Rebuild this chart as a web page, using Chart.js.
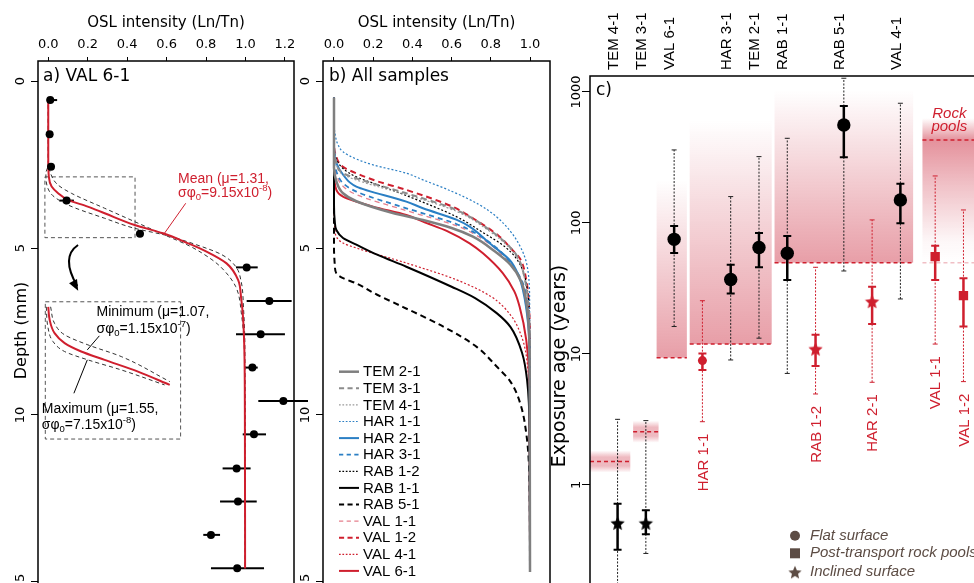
<!DOCTYPE html>
<html><head><meta charset="utf-8">
<script src="https://cdn.jsdelivr.net/npm/chart.js@4.4.1/dist/chart.umd.min.js"></script>
<style>
html,body{margin:0;padding:0;background:#fff;overflow:hidden;}
#wrap{position:relative;width:974px;height:583px;overflow:hidden;background:#fff;}
canvas{position:absolute;top:0;}
#ca{left:0;} #cb{left:290px;} #cc{left:540px;}
</style></head><body>
<div id="wrap">
<canvas id="ca" width="320" height="640"></canvas>
<canvas id="cb" width="265" height="640"></canvas>
<canvas id="cc" width="460" height="640"></canvas>
</div>
<script>
// ---------------- DATA ----------------
const depthTicks = [0, 5, 10, 15];
const oslTicksA = [0, 0.2, 0.4, 0.6, 0.8, 1.0, 1.2];
const oslTicksB = [0, 0.2, 0.4, 0.6, 0.8, 1.0];
const ageTicks = [1, 10, 100, 1000];

// Panel a: VAL 6-1 measured points
const val61Depth = [0.57,1.59,2.57,3.58,4.57,5.58,6.59,7.58,8.58,9.58,10.58,11.6,12.59,13.59,14.59];
const val61Osl   = [0.01,0.007,0.014,0.093,0.465,1.006,1.121,1.077,1.035,1.192,1.043,0.955,0.962,0.825,0.958];
const val61OslLo = [-0.008,0.0,0.006,0.056,0.448,0.952,1.006,0.952,0.994,1.065,0.986,0.884,0.871,0.786,0.825];
const val61OslHi = [0.045,0.014,0.022,0.13,0.482,1.062,1.234,1.2,1.062,1.317,1.104,1.026,1.057,0.871,1.094];
// Panel a fitted curves [depth, osl]
const meanCurveA = [[0.5,0],[2.3,0],[2.87,0.003],[3.16,0.017],[3.36,0.05],[3.56,0.1],[3.76,0.2],[3.96,0.286],[4.31,0.438],[4.56,0.582],[4.86,0.709],[5.1,0.8],[5.46,0.904],[5.96,0.963],[6.5,0.978],[6.95,0.986],[7.96,0.994],[10,0.997],[14.6,0.998]];
const minCurveA  = [[0.5,0],[2.2,0],[2.77,0.012],[3.11,0.049],[3.36,0.117],[3.81,0.286],[4.21,0.438],[4.61,0.59],[4.95,0.72],[5.35,0.83],[5.6,0.88],[6.15,0.95],[7.0,0.98],[8.3,0.995],[14.6,0.998]];
const maxCurveA  = [[0.5,0],[2.5,0],[2.77,-0.012],[3.36,0.012],[3.71,0.1],[4.11,0.286],[4.41,0.438],[4.61,0.59],[4.9,0.75],[5.2,0.88],[5.55,0.95],[6.0,0.978],[6.8,0.99],[8.0,0.997],[14.6,0.999]];
const insetMean  = [[6.76,0],[7.15,0.007],[7.55,0.032],[7.85,0.083],[8.1,0.167],[8.35,0.286],[8.7,0.455],[9.1,0.616]];
const insetUpper = [[6.76,0.012],[7.26,0.032],[7.6,0.083],[7.9,0.201],[8.25,0.37],[9.0,0.616]];
const insetLower = [[6.76,-0.01],[7.36,-0.002],[7.8,0.024],[8.1,0.083],[8.35,0.201],[8.65,0.37],[9.1,0.59]];

// Panel b: all samples [depth, osl]
const namesB = ['TEM 2-1','TEM 3-1','TEM 4-1','HAR 1-1','HAR 2-1','HAR 3-1','RAB 1-2','RAB 1-1','RAB 5-1','VAL 1-1','VAL 1-2','VAL 4-1','VAL 6-1'];
const curveTEM21 = [[0.5,0],[2.6,0],[3.0,0.012],[3.36,0.046],[3.6,0.114],[3.95,0.3],[4.16,0.454],[4.4,0.6],[4.66,0.709],[5.1,0.82],[5.5,0.9],[6.0,0.955],[6.8,0.985],[8.5,0.998],[14.7,1.0]];
const curveTEM31 = [[0.5,0],[2.0,0],[2.4,0.01],[2.76,0.046],[3.0,0.16],[3.36,0.369],[3.86,0.624],[4.46,0.794],[4.96,0.896],[5.3,0.94],[5.96,0.975],[6.8,0.993],[8,1.0],[14.7,1.0]];
const curveTEM41 = [[0.5,0],[2.05,0],[2.45,0.01],[2.8,0.046],[3.05,0.16],[3.4,0.369],[3.9,0.624],[4.5,0.794],[5.0,0.896],[5.35,0.94],[6.0,0.975],[6.85,0.993],[8,1.0],[14.7,1.0]];
const curveHAR11 = [[0.5,0],[1.2,0],[1.6,0.006],[1.9,0.02],[2.12,0.046],[2.35,0.12],[2.51,0.199],[2.76,0.369],[2.96,0.454],[3.3,0.6],[3.7,0.74],[4.06,0.828],[4.5,0.9],[4.9,0.945],[5.3,0.975],[5.7,0.99],[6.5,0.998],[14.7,1.0]];
const curveHAR21 = [[0.5,0],[2.0,0],[2.45,0.012],[2.8,0.046],[3.16,0.114],[3.61,0.369],[3.81,0.454],[4.15,0.624],[4.36,0.692],[4.86,0.794],[5.36,0.896],[5.8,0.94],[6.26,0.964],[7.26,0.99],[8.5,0.999],[14.7,1.0]];
const curveHAR31 = [[0.5,0],[2.3,0],[2.7,0.012],[3.06,0.046],[3.31,0.114],[3.81,0.369],[3.96,0.454],[4.28,0.624],[4.55,0.72],[5.0,0.83],[5.45,0.9],[6.0,0.96],[6.8,0.988],[8.5,0.999],[14.7,1.0]];
const curveRAB12 = [[0.5,0],[1.9,0],[2.3,0.01],[2.62,0.046],[2.87,0.114],[3.1,0.22],[3.43,0.369],[4.06,0.624],[4.5,0.75],[5.0,0.88],[5.5,0.95],[6.2,0.985],[7.2,0.997],[14.7,1.0]];
const curveRAB11 = [[0.5,0],[3.7,0],[4.2,0.004],[4.46,0.012],[4.7,0.046],[4.9,0.114],[5.2,0.22],[5.56,0.369],[6.16,0.6],[6.5,0.72],[6.95,0.83],[7.36,0.9],[8.15,0.96],[8.95,0.985],[10.5,0.998],[14.7,1.0]];
const curveRAB51 = [[0.5,0],[5.0,0],[5.5,0.004],[5.76,0.012],[5.9,0.046],[6.06,0.114],[6.4,0.22],[6.76,0.35],[7.36,0.56],[7.96,0.728],[8.55,0.83],[9.0,0.9],[9.65,0.95],[10.65,0.983],[12,0.997],[14.7,1.0]];
const curveVAL11 = [[0.5,0],[2.4,0],[2.8,0.012],[3.15,0.046],[3.4,0.114],[3.88,0.369],[4.33,0.624],[4.6,0.72],[5.05,0.83],[5.5,0.9],[6.05,0.96],[6.9,0.988],[8.6,0.999],[14.7,1.0]];
const curveVAL12 = [[0.5,0],[1.8,0],[2.2,0.008],[2.57,0.046],[2.8,0.13],[3.0,0.22],[3.26,0.369],[3.75,0.6],[4.11,0.709],[4.66,0.845],[5.0,0.9],[5.3,0.947],[5.96,0.981],[6.76,0.995],[8,1.0],[14.7,1.0]];
const curveVAL41 = [[0.5,0],[4.0,0],[4.4,0.004],[4.66,0.012],[4.85,0.046],[5.0,0.114],[5.45,0.369],[5.95,0.624],[6.45,0.8],[7.0,0.9],[7.7,0.96],[8.4,0.985],[10,0.998],[14.7,1.0]];
const curveVAL61 = [[0.5,0],[2.7,0],[3.26,0.012],[3.46,0.046],[3.76,0.199],[4.01,0.369],[4.21,0.454],[4.5,0.58],[4.86,0.692],[5.16,0.76],[5.76,0.862],[6.3,0.92],[6.76,0.947],[7.76,0.981],[9,0.996],[14.7,1.0]];
const curvesB = [curveTEM21,curveTEM31,curveTEM41,curveHAR11,curveHAR21,curveHAR31,curveRAB12,curveRAB11,curveRAB51,curveVAL11,curveVAL12,curveVAL41,curveVAL61];

// Panel c: exposure ages (years)
const samplesC = ['TEM 4-1','TEM 3-1','VAL 6-1','HAR 1-1','HAR 3-1','TEM 2-1','RAB 1-1','RAB 1-2','RAB 5-1','HAR 2-1','VAL 4-1','VAL 1-1','VAL 1-2'];
const surfaceC = ['inclined','inclined','flat','flat','flat','flat','flat','inclined','flat','inclined','flat','pool','pool'];
const redC     = [false,false,false,true,false,false,false,true,false,true,false,true,true];
const ageC   = [0.51,0.51,75,8.9,37,65,58.7,10.9,560,25.1,150,55.3,27.9];
const age1Lo = [0.32,0.42,59,7.55,29,46,36.7,8.1,318,16.9,99.5,36.7,16.2];
const age1Hi = [0.72,0.64,95,10.1,48,84,79.6,14.0,782,32.6,199,67.1,37.8];
const age2Lo = [0.1,0.30,16.2,3.04,9.0,13.2,7.1,4.95,43,6.08,26.3,11.9,6.15];
const age2Hi = [3.17,3.10,361,25.5,159,321,443,45.9,1273,105.5,820,228.5,125.7];
// Group (band) ages
const bandFirst = [0,1,2,3,6,11];
const bandLast  = [0,1,2,5,10,12];
const bandAge   = [1.51,2.55,9.37,11.9,49.8,430];
const bandUpper = [null,null,213,611,1035,631];
const bandLower = [null,null,null,null,null,49.8];

// ---------------- STYLE / HELPERS ----------------
const RED = '#cf1f2e';
const FONT = "'DejaVu Sans'";
const ARIAL = "'Liberation Sans', Arial";
Chart.defaults.font.family = FONT;
Chart.defaults.color = '#000';
const toXY = arr => arr.map(p => ({x: p[1], y: p[0]}));
const posC = samplesC.map((s,i) => i + 1 + (surfaceC[i] === 'pool' ? 0.23 : 0));

function vText(ctx, text, x, y, font, color, align) {
  ctx.save(); ctx.translate(x, y); ctx.rotate(-Math.PI/2);
  ctx.font = font; ctx.fillStyle = color; ctx.textAlign = align || 'center'; ctx.textBaseline = 'middle';
  ctx.fillText(text, 0, 0); ctx.restore();
}
function richText(ctx, parts, x, y, size, color) {
  let cx = x;
  ctx.fillStyle = color; ctx.textBaseline = 'middle'; ctx.textAlign = 'left';
  for (const p of parts) {
    const s = (p.sub || p.sup) ? size * 0.68 : size;
    ctx.font = s + 'px ' + ARIAL;
    const dy = p.sub ? size * 0.32 : (p.sup ? -size * 0.33 : 0);
    ctx.fillText(p.t, cx, y + dy);
    cx += ctx.measureText(p.t).width;
  }
}
function makeStar(r, color) {
  const c = document.createElement('canvas');
  const s = Math.ceil(r * 2 + 2); c.width = s; c.height = s;
  const g = c.getContext('2d');
  g.fillStyle = color; g.beginPath();
  for (let k = 0; k < 10; k++) {
    const ang = -Math.PI/2 + k * Math.PI / 5;
    const rr = k % 2 === 0 ? r : r * 0.46;
    const X = s/2 + rr * Math.cos(ang), Y = s/2 + 0.6 + rr * Math.sin(ang);
    k ? g.lineTo(X, Y) : g.moveTo(X, Y);
  }
  g.closePath(); g.fill();
  return c;
}
const starBlack = makeStar(7.5, '#000');
const starRed = makeStar(7.5, RED);
const starLegend = makeStar(7, '#5c4c44');

function depthAxis(width) {
  return {type:'linear', position:'left', reverse:true, min:-0.6, max:15.54,
    afterBuildTicks: s => { s.ticks = depthTicks.map(v => ({value: v})); },
    afterFit: s => { s.width = width; },
    ticks:{display:false},
    grid:{drawOnChartArea:false, tickLength:7, color:'#000', tickColor:'#000', lineWidth:1},
    border:{display:false}};
}
function oslAxis(min, max, ticks) {
  return {type:'linear', position:'top', min:min, max:max,
    afterBuildTicks: s => { s.ticks = ticks.map(v => ({value: v})); },
    afterFit: s => { s.height = 61; },
    ticks:{font:{size:13, family:FONT}, padding:5, color:'#000', autoSkip:false, maxRotation:0, callback: v => Number(v).toFixed(1)},
    grid:{drawOnChartArea:false, tickLength:4, color:'#000', tickColor:'#000', lineWidth:1},
    border:{display:false},
    title:{display:true, text:'OSL intensity (Ln/Tn)', font:{size:15, family:FONT}, padding:{top:14, bottom:0}, color:'#000'}};
}
function curveDs(arr, color, width, dash) {
  return {data: toXY(arr), showLine:true, borderColor:color, borderWidth:width, borderDash:dash,
    pointRadius:0, cubicInterpolationMode:'monotone', fill:false};
}

// ---------------- PANEL A ----------------
const plugA = {
  id:'plugA',
  beforeDatasetsDraw(chart) {
    const {ctx, scales:{x, y}} = chart;
    ctx.save();
    ctx.strokeStyle = '#000'; ctx.lineWidth = 2;
    val61Depth.forEach((d, i) => {
      const py = y.getPixelForValue(d);
      ctx.beginPath();
      ctx.moveTo(x.getPixelForValue(val61OslLo[i]), py);
      ctx.lineTo(x.getPixelForValue(val61OslHi[i]), py);
      ctx.stroke();
    });
    ctx.setLineDash([4,3]); ctx.lineWidth = 1; ctx.strokeStyle = '#555';
    const box = (x0, x1, d0, d1) => {
      const a = x.getPixelForValue(x0), b = x.getPixelForValue(x1);
      const c = y.getPixelForValue(d0), e = y.getPixelForValue(d1);
      ctx.strokeRect(a, c, b - a, e - c);
    };
    box(-0.017, 0.44, 2.87, 4.69);
    box(-0.015, 0.671, 6.61, 10.72);
    ctx.restore();
  },
  afterDraw(chart) {
    const {ctx, chartArea:ca, scales:{x, y}} = chart;
    ctx.save();
    ctx.strokeStyle = '#000'; ctx.lineWidth = 1.5;
    ctx.strokeRect(ca.left, ca.top, ca.right - ca.left, ca.bottom - ca.top);
    depthTicks.forEach(v => vText(ctx, String(v), ca.left - 17, y.getPixelForValue(v), '13px ' + FONT, '#000'));
    ctx.font = '17px ' + FONT; ctx.fillStyle = '#000'; ctx.textAlign = 'left'; ctx.textBaseline = 'middle';
    ctx.fillText('a) VAL 6-1', ca.left + 5, ca.top + 16);
    const P = (vx, vd) => [x.getPixelForValue(vx), y.getPixelForValue(vd)];
    const line = (p, q, col) => { ctx.strokeStyle = col; ctx.lineWidth = 1; ctx.beginPath(); ctx.moveTo(p[0], p[1]); ctx.lineTo(q[0], q[1]); ctx.stroke(); };
    let p = P(0.658, 2.93);
    ctx.font = '14px ' + ARIAL; ctx.fillStyle = RED; ctx.fillText('Mean (\u03bc=1.31,', p[0], p[1]);
    p = P(0.658, 3.35);
    richText(ctx, [{t:'\u03c3\u03c6'},{t:'0',sub:true},{t:'=9.15x10'},{t:'-8',sup:true},{t:')'}], p[0], p[1], 14, RED);
    line(P(0.697, 3.66), P(0.583, 4.61), RED);
    p = P(0.245, 6.93);
    ctx.font = '14px ' + ARIAL; ctx.fillStyle = '#000'; ctx.textAlign = 'left'; ctx.fillText('Minimum (\u03bc=1.07,', p[0], p[1]);
    p = P(0.245, 7.43);
    richText(ctx, [{t:'\u03c3\u03c6'},{t:'0',sub:true},{t:'=1.15x10'},{t:'-7',sup:true},{t:')'}], p[0], p[1], 14, '#000');
    line(P(0.259, 7.63), P(0.198, 8.05), '#000');
    p = P(-0.033, 9.82);
    ctx.font = '14px ' + ARIAL; ctx.fillStyle = '#000'; ctx.fillText('Maximum (\u03bc=1.55,', p[0], p[1]);
    p = P(-0.033, 10.3);
    richText(ctx, [{t:'\u03c3\u03c6'},{t:'0',sub:true},{t:'=7.15x10'},{t:'-8',sup:true},{t:')'}], p[0], p[1], 14, '#000');
    line(P(0.198, 8.35), P(0.13, 9.35), '#000');
    const a0 = P(0.151, 4.91), c0 = P(0.061, 5.27), a1 = P(0.147, 6.23);
    ctx.strokeStyle = '#000'; ctx.lineWidth = 2;
    ctx.beginPath(); ctx.moveTo(a0[0], a0[1]); ctx.quadraticCurveTo(c0[0], c0[1], a1[0], a1[1] - 3); ctx.stroke();
    const ang = Math.atan2(a1[1] - c0[1], a1[0] - c0[0]);
    ctx.fillStyle = '#000'; ctx.beginPath();
    ctx.moveTo(a1[0] + 2*Math.cos(ang), a1[1] + 2*Math.sin(ang));
    ctx.lineTo(a1[0] - 9*Math.cos(ang) + 4.5*Math.sin(ang), a1[1] - 9*Math.sin(ang) - 4.5*Math.cos(ang));
    ctx.lineTo(a1[0] - 9*Math.cos(ang) - 4.5*Math.sin(ang), a1[1] - 9*Math.sin(ang) + 4.5*Math.cos(ang));
    ctx.closePath(); ctx.fill();
    ctx.restore();
  }
};

new Chart(document.getElementById('ca'), {
  type:'scatter',
  data:{datasets:[
    {data: val61Depth.map((d, i) => ({x: val61Osl[i], y: d})), showLine:false, pointRadius:4, pointBackgroundColor:'#000', pointBorderColor:'#000', pointBorderWidth:0},
    curveDs(meanCurveA, RED, 2, []),
    curveDs(minCurveA, '#333', 1, [4,3]),
    curveDs(maxCurveA, '#333', 1, [4,3]),
    curveDs(insetMean, RED, 2, []),
    curveDs(insetUpper, '#333', 1, [4,3]),
    curveDs(insetLower, '#333', 1, [4,3])
  ]},
  options:{
    responsive:false, animation:false, events:[], indexAxis:'y',
    layout:{padding:{left:0, top:0, right:26, bottom:40}},
    plugins:{legend:{display:false}, tooltip:{enabled:false}},
    scales:{
      x: oslAxis(-0.052, 1.246, oslTicksA),
      y: Object.assign(depthAxis(38), {title:{display:true, text:'Depth (mm)', font:{size:16, family:FONT}, padding:{top:12.4, bottom:0}, color:'#000'}})
    }
  },
  plugins:[plugA]
});

// ---------------- PANEL B ----------------
const GRAY = '#7f7f7f', BLUE = '#2b7fc4', PINK = '#e57f8c';
const lineStyleB = [
  {c:GRAY, w:2.5, d:[]}, {c:'#8c8c8c', w:2, d:[6,4]}, {c:'#9a9a9a', w:1.2, d:[2,2]},
  {c:BLUE, w:1.2, d:[2,2]}, {c:BLUE, w:2, d:[]}, {c:BLUE, w:1.8, d:[5,4]},
  {c:'#000', w:1.2, d:[2,2]}, {c:'#000', w:2, d:[]}, {c:'#000', w:2, d:[6,4]},
  {c:PINK, w:1.3, d:[5,4]}, {c:RED, w:2, d:[6,4]}, {c:RED, w:1.2, d:[2,2]}, {c:RED, w:2, d:[]}
];
const plugB = {
  id:'plugB',
  afterDraw(chart) {
    const {ctx, chartArea:ca, scales:{y}} = chart;
    ctx.save();
    ctx.strokeStyle = '#000'; ctx.lineWidth = 1.5;
    ctx.strokeRect(ca.left, ca.top, ca.right - ca.left, ca.bottom - ca.top);
    depthTicks.forEach(v => vText(ctx, String(v), ca.left - 17, y.getPixelForValue(v), '13px ' + FONT, '#000'));
    ctx.font = '17px ' + FONT; ctx.fillStyle = '#000'; ctx.textAlign = 'left'; ctx.textBaseline = 'middle';
    ctx.fillText('b) All samples', ca.left + 6, ca.top + 16);
    namesB.forEach((n, i) => {
      const st = lineStyleB[i];
      const yy = ca.top + 310.7 + i * 16.6;
      ctx.strokeStyle = st.c; ctx.lineWidth = st.w; ctx.setLineDash(st.d.map(v => Math.max(1.5, v * 0.85)));
      ctx.beginPath(); ctx.moveTo(ca.left + 16, yy); ctx.lineTo(ca.left + 36, yy); ctx.stroke();
      ctx.setLineDash([]);
      ctx.font = '15px ' + ARIAL; ctx.fillStyle = '#000';
      ctx.fillText(n, ca.left + 40, yy + 0.5);
    });
    ctx.restore();
  }
};
new Chart(document.getElementById('cb'), {
  type:'scatter',
  data:{datasets: curvesB.map((c, i) => Object.assign(curveDs(c, lineStyleB[i].c, lineStyleB[i].w, lineStyleB[i].d), {label: namesB[i]}))},
  options:{
    responsive:false, animation:false, events:[], indexAxis:'y',
    layout:{padding:{left:0, top:0, right:5, bottom:40}},
    plugins:{legend:{display:false}, tooltip:{enabled:false}},
    scales:{ x: oslAxis(-0.0561, 1.102, oslTicksB), y: depthAxis(33) }
  },
  plugins:[plugB]
});

// ---------------- PANEL C ----------------
const plugC = {
  id:'plugC',
  beforeDatasetsDraw(chart) {
    const {ctx, chartArea:ca, scales:{x, y}} = chart;
    ctx.save();
    ctx.beginPath(); ctx.rect(ca.left, ca.top, ca.right - ca.left, ca.bottom - ca.top); ctx.clip();
    const col = a => 'rgba(204,44,64,' + a + ')';
    bandFirst.forEach((f, k) => {
      const l = bandLast[k];
      const xL = f === 0 ? ca.left : x.getPixelForValue(posC[f] - (k === 2 ? 0.62 : 0.45));
      const xR = l === samplesC.length - 1 ? ca.right : x.getPixelForValue(posC[l] + 0.45);
      const yL = y.getPixelForValue(bandAge[k]);
      if (bandUpper[k] === null) {
        const g = ctx.createLinearGradient(0, yL - 11, 0, yL + 11);
        g.addColorStop(0, col(0)); g.addColorStop(0.3, col(0.33)); g.addColorStop(0.7, col(0.33)); g.addColorStop(1, col(0));
        ctx.fillStyle = g; ctx.fillRect(xL, yL - 11, xR - xL, 22);
      } else if (bandLower[k] === null) {
        const yT = y.getPixelForValue(bandUpper[k]);
        const g = ctx.createLinearGradient(0, yT, 0, yL);
        g.addColorStop(0, col(0)); g.addColorStop(1, col(0.46));
        ctx.fillStyle = g; ctx.fillRect(xL, yT, xR - xL, yL - yT);
      } else {
        const yT = y.getPixelForValue(bandUpper[k]);
        const yB = y.getPixelForValue(bandLower[k]);
        const g = ctx.createLinearGradient(0, yT, 0, yB);
        const f0 = (yL - yT) / (yB - yT);
        g.addColorStop(0, col(0)); g.addColorStop(f0, col(0.52)); g.addColorStop(Math.min(0.55, f0 + 0.3), col(0.3));
        g.addColorStop(0.85, col(0.04)); g.addColorStop(1, col(0));
        ctx.fillStyle = g; ctx.fillRect(xL, yT, xR - xL, yB - yT);
        ctx.strokeStyle = col(0.3); ctx.lineWidth = 1.5; ctx.setLineDash([4,3]);
        ctx.beginPath(); ctx.moveTo(xL, yB); ctx.lineTo(xR, yB); ctx.stroke();
      }
      ctx.strokeStyle = RED; ctx.lineWidth = 1.5; ctx.setLineDash([4,3]);
      ctx.beginPath(); ctx.moveTo(xL, yL); ctx.lineTo(xR, yL); ctx.stroke();
      ctx.setLineDash([]);
    });
    samplesC.forEach((s, i) => {
      const px = x.getPixelForValue(posC[i]);
      const c = redC[i] ? RED : '#222';
      const y2a = y.getPixelForValue(age2Lo[i]), y2b = y.getPixelForValue(age2Hi[i]);
      ctx.strokeStyle = c; ctx.lineWidth = 1; ctx.setLineDash([2,1.5]);
      ctx.beginPath(); ctx.moveTo(px, y2a); ctx.lineTo(px, y2b); ctx.stroke();
      ctx.setLineDash([]);
      ctx.beginPath(); ctx.moveTo(px - 2.5, y2a); ctx.lineTo(px + 2.5, y2a); ctx.moveTo(px - 2.5, y2b); ctx.lineTo(px + 2.5, y2b); ctx.stroke();
      const y1a = y.getPixelForValue(age1Lo[i]), y1b = y.getPixelForValue(age1Hi[i]);
      ctx.strokeStyle = redC[i] ? RED : '#000'; ctx.lineWidth = 2.5;
      ctx.beginPath(); ctx.moveTo(px, y1a); ctx.lineTo(px, y1b); ctx.stroke();
      ctx.lineWidth = 2;
      ctx.beginPath(); ctx.moveTo(px - 4, y1a); ctx.lineTo(px + 4, y1a); ctx.moveTo(px - 4, y1b); ctx.lineTo(px + 4, y1b); ctx.stroke();
    });
    ctx.restore();
  },
  afterDraw(chart) {
    const {ctx, chartArea:ca, scales:{x, y}} = chart;
    ctx.save();
    ctx.strokeStyle = '#000'; ctx.lineWidth = 1.5;
    ctx.beginPath(); ctx.moveTo(ca.right, ca.top); ctx.lineTo(ca.left, ca.top); ctx.lineTo(ca.left, ca.bottom); ctx.stroke();
    ageTicks.forEach(v => vText(ctx, String(v), ca.left - 13, y.getPixelForValue(v), '13px ' + FONT, '#000'));
    vText(ctx, 'Exposure age (years)', ca.left - 30, 366, '19px ' + FONT, '#000');
    ctx.font = '17px ' + FONT; ctx.fillStyle = '#000'; ctx.textAlign = 'left'; ctx.textBaseline = 'middle';
    ctx.fillText('c)', ca.left + 6, ca.top + 15);
    samplesC.forEach((s, i) => {
      const px = x.getPixelForValue(posC[i]);
      if (redC[i]) {
        vText(ctx, s, px + 1, y.getPixelForValue(age2Lo[i]) + 12, '15px ' + ARIAL, RED, 'right');
      } else {
        vText(ctx, s, px - 4, ca.top - 6, '15px ' + ARIAL, '#000', 'left');
      }
    });
    const yPool = y.getPixelForValue(bandAge[5]);
    const xPool = x.getPixelForValue((posC[11] + posC[12]) / 2);
    ctx.font = 'italic 15px ' + ARIAL; ctx.fillStyle = RED; ctx.textAlign = 'center';
    ctx.fillText('Rock', xPool, yPool - 26);
    ctx.fillText('pools', xPool, yPool - 13);
    const LC = '#5c4c44';
    const lx = ca.left + 205;
    const rows = [ca.top + 459.7, ca.top + 477.3, ca.top + 496.3];
    ctx.fillStyle = LC;
    ctx.beginPath(); ctx.arc(lx, rows[0], 5, 0, Math.PI * 2); ctx.fill();
    ctx.fillRect(lx - 5, rows[1] - 5, 10, 10);
    ctx.drawImage(starLegend, lx - starLegend.width / 2, rows[2] - starLegend.height / 2);
    ctx.font = 'italic 15px ' + ARIAL; ctx.textAlign = 'left'; ctx.textBaseline = 'middle';
    ctx.fillText('Flat surface', lx + 15, rows[0]);
    ctx.fillText('Post-transport rock pools', lx + 15, rows[1]);
    ctx.fillText('Inclined surface', lx + 15, rows[2]);
    ctx.restore();
  }
};
new Chart(document.getElementById('cc'), {
  type:'scatter',
  data:{datasets:[{
    data: samplesC.map((s, i) => ({x: posC[i], y: ageC[i]})),
    pointStyle: c => surfaceC[c.dataIndex] === 'inclined' ? (redC[c.dataIndex] ? starRed : starBlack) : (surfaceC[c.dataIndex] === 'pool' ? 'rect' : 'circle'),
    pointRadius: c => surfaceC[c.dataIndex] === 'pool' ? 6.6 : (redC[c.dataIndex] ? 4.5 : 6.7),
    pointBackgroundColor: c => redC[c.dataIndex] ? RED : '#000',
    pointBorderWidth: 0,
    showLine:false
  }]},
  options:{
    responsive:false, animation:false, events:[],
    layout:{padding:{left:0, top:0, right:5, bottom:40}},
    plugins:{legend:{display:false}, tooltip:{enabled:false}},
    scales:{
      x:{type:'linear', position:'top', min:0.025, max:14.285,
         afterFit: s => { s.height = 76; },
         ticks:{display:false}, grid:{display:false}, border:{display:false}},
      y:{type:'logarithmic', position:'left', min:0.1324, max:1324,
         afterBuildTicks: s => { s.ticks = ageTicks.map(v => ({value: v})); },
         afterFit: s => { s.width = 50; },
         ticks:{display:false},
         grid:{drawOnChartArea:false, tickLength:8, color:'#000', tickColor:'#000', lineWidth:1},
         border:{display:false}}
    }
  },
  plugins:[plugC]
});
</script>
</body></html>
